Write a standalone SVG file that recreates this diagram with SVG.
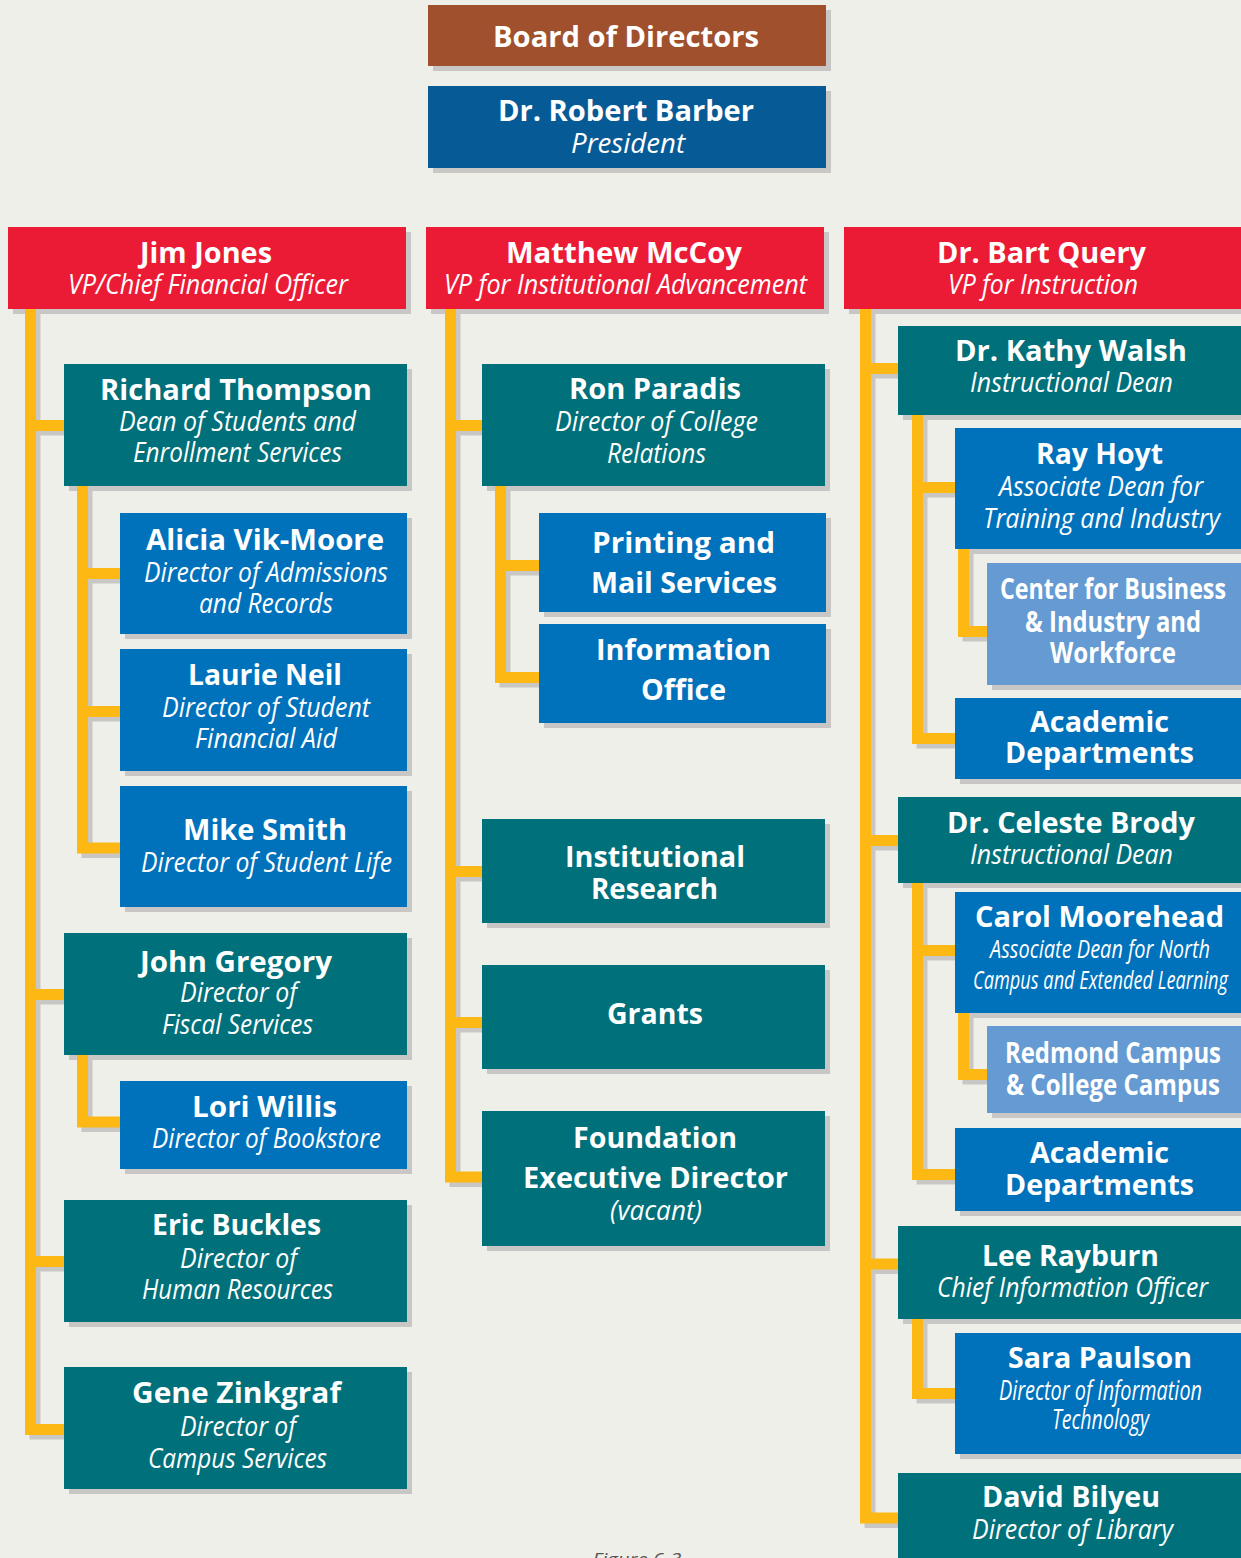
<svg xmlns="http://www.w3.org/2000/svg" width="1241" height="1558" viewBox="0 0 1241 1558">
<defs>
<style>
.bg{fill:#efefe9}
.sh{fill:#c8c7c5}
.brown{fill:#a0502c}
.navy{fill:#065b97}
.red{fill:#ec1b35}
.teal{fill:#00707a}
.blue{fill:#0071bb}
.lblue{fill:#659bd2}
text{font-family:"Open Sans","Noto Sans","Liberation Sans",sans-serif;fill:#ffffff;text-anchor:middle}
.n{font-weight:700;font-size:29px}
.t{font-style:italic;font-weight:400;font-size:28px}
.ts{font-style:italic;font-weight:400;font-size:26px}
.c{font-weight:700;font-size:28px}
.cap{font-style:italic;font-size:18px;fill:#555555}
.ln{fill:none;stroke:#fdb813;stroke-width:11;stroke-linejoin:miter;stroke-linecap:butt}
.lsh{fill:none;stroke:#c8c7c5;stroke-width:11;stroke-linejoin:miter;stroke-linecap:butt}
</style>
</defs>
<rect class="bg" x="0" y="0" width="1241" height="1558"/>

<g id="connector-shadows" transform="translate(4.5,4.5)">
<path class="lsh" d="M30.5 309V1429.5H64M30.5 425.5H64M30.5 994.5H64M30.5 1261.5H64"/>
<path class="lsh" d="M82.5 486V848H120M82.5 573.5H120M82.5 711.5H120"/>
<path class="lsh" d="M82.5 1055V1122H120"/>
<path class="lsh" d="M450.5 309V1177H482M450.5 425.5H482M450.5 871.5H482M450.5 1022.5H482"/>
<path class="lsh" d="M500.5 486V677.5H539M500.5 565.5H539"/>
<path class="lsh" d="M865.5 309V1518H898M865.5 368.5H898M865.5 840.5H898M865.5 1264H898"/>
<path class="lsh" d="M917.5 414V738.5H955M917.5 487.5H955"/>
<path class="lsh" d="M963.5 549V631.5H987"/>
<path class="lsh" d="M917.5 883V1174.5H955M917.5 950.5H955"/>
<path class="lsh" d="M963.5 1013V1074.5H987"/>
<path class="lsh" d="M917.5 1319V1393.5H955"/>
</g>

<g id="board"><rect class="sh" x="433" y="10" width="398" height="61"/><rect class="brown" x="428" y="5" width="398" height="61"/>
<text class="n" x="626" y="47" font-size="30" textLength="266" lengthAdjust="spacingAndGlyphs">Board of Directors</text></g>
<g id="president"><rect class="sh" x="433" y="91" width="398" height="82"/><rect class="navy" x="428" y="86" width="398" height="82"/>
<text class="n" x="626" y="121" textLength="256" lengthAdjust="spacingAndGlyphs">Dr. Robert Barber</text>
<text class="t" x="628" y="153" textLength="114" lengthAdjust="spacingAndGlyphs">President</text></g>

<g id="jim-jones"><rect class="sh" x="13" y="232" width="398" height="82"/><rect class="red" x="8" y="227" width="398" height="82"/>
<text class="n" x="206" y="263" textLength="132" lengthAdjust="spacingAndGlyphs">Jim Jones</text>
<text class="t" x="208" y="294" textLength="280" lengthAdjust="spacingAndGlyphs">VP/Chief Financial Officer</text></g>
<g id="matthew-mccoy"><rect class="sh" x="431" y="232" width="398" height="82"/><rect class="red" x="426" y="227" width="398" height="82"/>
<text class="n" x="624" y="263" textLength="236" lengthAdjust="spacingAndGlyphs">Matthew McCoy</text>
<text class="t" x="625.5" y="294" textLength="363" lengthAdjust="spacingAndGlyphs">VP for Institutional Advancement</text></g>
<g id="bart-query"><rect class="sh" x="849" y="232" width="400" height="82"/><rect class="red" x="844" y="227" width="400" height="82"/>
<text class="n" x="1041.5" y="263" textLength="209" lengthAdjust="spacingAndGlyphs">Dr. Bart Query</text>
<text class="t" x="1043" y="294" textLength="190" lengthAdjust="spacingAndGlyphs">VP for Instruction</text></g>

<g id="richard-thompson"><rect class="sh" x="69" y="369" width="343" height="122"/><rect class="teal" x="64" y="364" width="343" height="122"/>
<text class="n" x="236" y="400" textLength="272" lengthAdjust="spacingAndGlyphs">Richard Thompson</text>
<text class="t" x="237.5" y="431" textLength="237" lengthAdjust="spacingAndGlyphs">Dean of Students and</text>
<text class="t" x="237.5" y="462" textLength="209" lengthAdjust="spacingAndGlyphs">Enrollment Services</text></g>
<g id="alicia-vik-moore"><rect class="sh" x="125" y="518" width="287" height="121"/><rect class="blue" x="120" y="513" width="287" height="121"/>
<text class="n" x="265" y="550" textLength="238" lengthAdjust="spacingAndGlyphs">Alicia Vik-Moore</text>
<text class="t" x="266" y="582" textLength="244" lengthAdjust="spacingAndGlyphs">Director of Admissions</text>
<text class="t" x="266" y="613" textLength="134" lengthAdjust="spacingAndGlyphs">and Records</text></g>
<g id="laurie-neil"><rect class="sh" x="125" y="654" width="287" height="122"/><rect class="blue" x="120" y="649" width="287" height="122"/>
<text class="n" x="265" y="685" textLength="154" lengthAdjust="spacingAndGlyphs">Laurie Neil</text>
<text class="t" x="266" y="717" textLength="208" lengthAdjust="spacingAndGlyphs">Director of Student</text>
<text class="t" x="266" y="748" textLength="142" lengthAdjust="spacingAndGlyphs">Financial Aid</text></g>
<g id="mike-smith"><rect class="sh" x="125" y="791" width="287" height="121"/><rect class="blue" x="120" y="786" width="287" height="121"/>
<text class="n" x="265" y="840" textLength="164" lengthAdjust="spacingAndGlyphs">Mike Smith</text>
<text class="t" x="266.5" y="872" textLength="251" lengthAdjust="spacingAndGlyphs">Director of Student Life</text></g>
<g id="john-gregory"><rect class="sh" x="69" y="938" width="343" height="122"/><rect class="teal" x="64" y="933" width="343" height="122"/>
<text class="n" x="236" y="972" textLength="192" lengthAdjust="spacingAndGlyphs">John Gregory</text>
<text class="t" x="238.5" y="1002" textLength="117" lengthAdjust="spacingAndGlyphs">Director of</text>
<text class="t" x="237.5" y="1034" textLength="151" lengthAdjust="spacingAndGlyphs">Fiscal Services</text></g>
<g id="lori-willis"><rect class="sh" x="125" y="1086" width="287" height="88"/><rect class="blue" x="120" y="1081" width="287" height="88"/>
<text class="n" x="264.5" y="1117" textLength="145" lengthAdjust="spacingAndGlyphs">Lori Willis</text>
<text class="t" x="266.5" y="1148" textLength="229" lengthAdjust="spacingAndGlyphs">Director of Bookstore</text></g>
<g id="eric-buckles"><rect class="sh" x="69" y="1205" width="343" height="122"/><rect class="teal" x="64" y="1200" width="343" height="122"/>
<text class="n" x="236.5" y="1235" textLength="169" lengthAdjust="spacingAndGlyphs">Eric Buckles</text>
<text class="t" x="238.5" y="1268" textLength="117" lengthAdjust="spacingAndGlyphs">Director of</text>
<text class="t" x="237.5" y="1299" textLength="191" lengthAdjust="spacingAndGlyphs">Human Resources</text></g>
<g id="gene-zinkgraf"><rect class="sh" x="69" y="1372" width="343" height="122"/><rect class="teal" x="64" y="1367" width="343" height="122"/>
<text class="n" x="236.5" y="1403" textLength="209" lengthAdjust="spacingAndGlyphs">Gene Zinkgraf</text>
<text class="t" x="238" y="1436" textLength="116" lengthAdjust="spacingAndGlyphs">Director of</text>
<text class="t" x="237.5" y="1468" textLength="179" lengthAdjust="spacingAndGlyphs">Campus Services</text></g>

<g id="ron-paradis"><rect class="sh" x="487" y="369" width="343" height="122"/><rect class="teal" x="482" y="364" width="343" height="122"/>
<text class="n" x="655" y="399" textLength="172" lengthAdjust="spacingAndGlyphs">Ron Paradis</text>
<text class="t" x="656.5" y="431" textLength="203" lengthAdjust="spacingAndGlyphs">Director of College</text>
<text class="t" x="656.5" y="463" textLength="99" lengthAdjust="spacingAndGlyphs">Relations</text></g>
<g id="printing-mail"><rect class="sh" x="544" y="518" width="287" height="99"/><rect class="blue" x="539" y="513" width="287" height="99"/>
<text class="n" x="683.5" y="553" textLength="183" lengthAdjust="spacingAndGlyphs">Printing and</text>
<text class="n" x="684" y="593" textLength="186" lengthAdjust="spacingAndGlyphs">Mail Services</text></g>
<g id="information-office"><rect class="sh" x="544" y="629" width="287" height="99"/><rect class="blue" x="539" y="624" width="287" height="99"/>
<text class="n" x="683.5" y="660" textLength="175" lengthAdjust="spacingAndGlyphs">Information</text>
<text class="n" x="683.5" y="700" textLength="85" lengthAdjust="spacingAndGlyphs">Office</text></g>
<g id="institutional-research"><rect class="sh" x="487" y="824" width="343" height="104"/><rect class="teal" x="482" y="819" width="343" height="104"/>
<text class="n" x="655" y="867" textLength="180" lengthAdjust="spacingAndGlyphs">Institutional</text>
<text class="n" x="654.5" y="899" textLength="127" lengthAdjust="spacingAndGlyphs">Research</text></g>
<g id="grants"><rect class="sh" x="487" y="970" width="343" height="104"/><rect class="teal" x="482" y="965" width="343" height="104"/>
<text class="n" x="655" y="1024" textLength="96" lengthAdjust="spacingAndGlyphs">Grants</text></g>
<g id="foundation"><rect class="sh" x="487" y="1116" width="343" height="135"/><rect class="teal" x="482" y="1111" width="343" height="135"/>
<text class="n" x="655" y="1148" textLength="164" lengthAdjust="spacingAndGlyphs">Foundation</text>
<text class="n" x="655.5" y="1188" textLength="265" lengthAdjust="spacingAndGlyphs">Executive Director</text>
<text class="t" x="656" y="1220" textLength="92" lengthAdjust="spacingAndGlyphs">(vacant)</text></g>

<g id="kathy-walsh"><rect class="sh" x="903" y="331" width="350" height="89"/><rect class="teal" x="898" y="326" width="350" height="89"/>
<text class="n" x="1071" y="361" textLength="232" lengthAdjust="spacingAndGlyphs">Dr. Kathy Walsh</text>
<text class="t" x="1071.5" y="392" textLength="203" lengthAdjust="spacingAndGlyphs">Instructional Dean</text></g>
<g id="ray-hoyt"><rect class="sh" x="960" y="433" width="290" height="121"/><rect class="blue" x="955" y="428" width="290" height="121"/>
<text class="n" x="1099.5" y="464" textLength="127" lengthAdjust="spacingAndGlyphs">Ray Hoyt</text>
<text class="t" x="1101" y="496" textLength="204" lengthAdjust="spacingAndGlyphs">Associate Dean for</text>
<text class="t" x="1101.5" y="528" textLength="237" lengthAdjust="spacingAndGlyphs">Training and Industry</text></g>
<g id="center-business"><rect class="sh" x="992" y="568" width="260" height="122"/><rect class="lblue" x="987" y="563" width="260" height="122"/>
<text class="c" x="1113" y="599" textLength="226" lengthAdjust="spacingAndGlyphs">Center for Business</text>
<text class="c" x="1113" y="632" textLength="176" lengthAdjust="spacingAndGlyphs">&amp; Industry and</text>
<text class="c" x="1113" y="663" textLength="126" lengthAdjust="spacingAndGlyphs">Workforce</text></g>
<g id="academic-departments-1"><rect class="sh" x="960" y="703" width="290" height="81"/><rect class="blue" x="955" y="698" width="290" height="81"/>
<text class="n" x="1099.5" y="732" textLength="139" lengthAdjust="spacingAndGlyphs">Academic</text>
<text class="n" x="1099.5" y="763" textLength="189" lengthAdjust="spacingAndGlyphs">Departments</text></g>
<g id="celeste-brody"><rect class="sh" x="903" y="802" width="350" height="86"/><rect class="teal" x="898" y="797" width="350" height="86"/>
<text class="n" x="1071" y="833" textLength="248" lengthAdjust="spacingAndGlyphs">Dr. Celeste Brody</text>
<text class="t" x="1071.5" y="864" textLength="203" lengthAdjust="spacingAndGlyphs">Instructional Dean</text></g>
<g id="carol-moorehead"><rect class="sh" x="960" y="897" width="290" height="121"/><rect class="blue" x="955" y="892" width="290" height="121"/>
<text class="n" x="1099.5" y="927" textLength="249" lengthAdjust="spacingAndGlyphs">Carol Moorehead</text>
<text class="ts" x="1100" y="958" textLength="220" lengthAdjust="spacingAndGlyphs">Associate Dean for North</text>
<text class="ts" x="1100.5" y="989" textLength="255" lengthAdjust="spacingAndGlyphs">Campus and Extended Learning</text></g>
<g id="redmond-campus"><rect class="sh" x="992" y="1031" width="260" height="87"/><rect class="lblue" x="987" y="1026" width="260" height="87"/>
<text class="c" x="1113" y="1063" textLength="216" lengthAdjust="spacingAndGlyphs">Redmond Campus</text>
<text class="c" x="1113" y="1095" textLength="214" lengthAdjust="spacingAndGlyphs">&amp; College Campus</text></g>
<g id="academic-departments-2"><rect class="sh" x="960" y="1133" width="290" height="83"/><rect class="blue" x="955" y="1128" width="290" height="83"/>
<text class="n" x="1099.5" y="1163" textLength="139" lengthAdjust="spacingAndGlyphs">Academic</text>
<text class="n" x="1099.5" y="1195" textLength="189" lengthAdjust="spacingAndGlyphs">Departments</text></g>
<g id="lee-rayburn"><rect class="sh" x="903" y="1231" width="350" height="93"/><rect class="teal" x="898" y="1226" width="350" height="93"/>
<text class="n" x="1070.5" y="1266" textLength="177" lengthAdjust="spacingAndGlyphs">Lee Rayburn</text>
<text class="t" x="1072.5" y="1297" textLength="271" lengthAdjust="spacingAndGlyphs">Chief Information Officer</text></g>
<g id="sara-paulson"><rect class="sh" x="960" y="1338" width="290" height="121"/><rect class="blue" x="955" y="1333" width="290" height="121"/>
<text class="n" x="1100" y="1368" textLength="184" lengthAdjust="spacingAndGlyphs">Sara Paulson</text>
<text class="t" x="1100.5" y="1400" textLength="203" lengthAdjust="spacingAndGlyphs">Director of Information</text>
<text class="t" x="1100.5" y="1429" textLength="97" lengthAdjust="spacingAndGlyphs">Technology</text></g>
<g id="david-bilyeu"><rect class="sh" x="903" y="1478" width="350" height="100"/><rect class="teal" x="898" y="1473" width="350" height="100"/>
<text class="n" x="1071" y="1507" textLength="178" lengthAdjust="spacingAndGlyphs">David Bilyeu</text>
<text class="t" x="1072.5" y="1539" textLength="201" lengthAdjust="spacingAndGlyphs">Director of Library</text></g>

<g id="connectors">
<path class="ln" d="M30.5 309V1429.5H64M30.5 425.5H64M30.5 994.5H64M30.5 1261.5H64"/>
<path class="ln" d="M82.5 486V848H120M82.5 573.5H120M82.5 711.5H120"/>
<path class="ln" d="M82.5 1055V1122H120"/>
<path class="ln" d="M450.5 309V1177H482M450.5 425.5H482M450.5 871.5H482M450.5 1022.5H482"/>
<path class="ln" d="M500.5 486V677.5H539M500.5 565.5H539"/>
<path class="ln" d="M865.5 309V1518H898M865.5 368.5H898M865.5 840.5H898M865.5 1264H898"/>
<path class="ln" d="M917.5 415V738.5H955M917.5 487.5H955"/>
<path class="ln" d="M963.5 549V631.5H987"/>
<path class="ln" d="M917.5 883V1174.5H955M917.5 950.5H955"/>
<path class="ln" d="M963.5 1013V1074.5H987"/>
<path class="ln" d="M917.5 1319V1393.5H955"/>
</g>

<text class="cap" x="637" y="1566" textLength="89" lengthAdjust="spacingAndGlyphs">Figure 6-3</text>
</svg>
